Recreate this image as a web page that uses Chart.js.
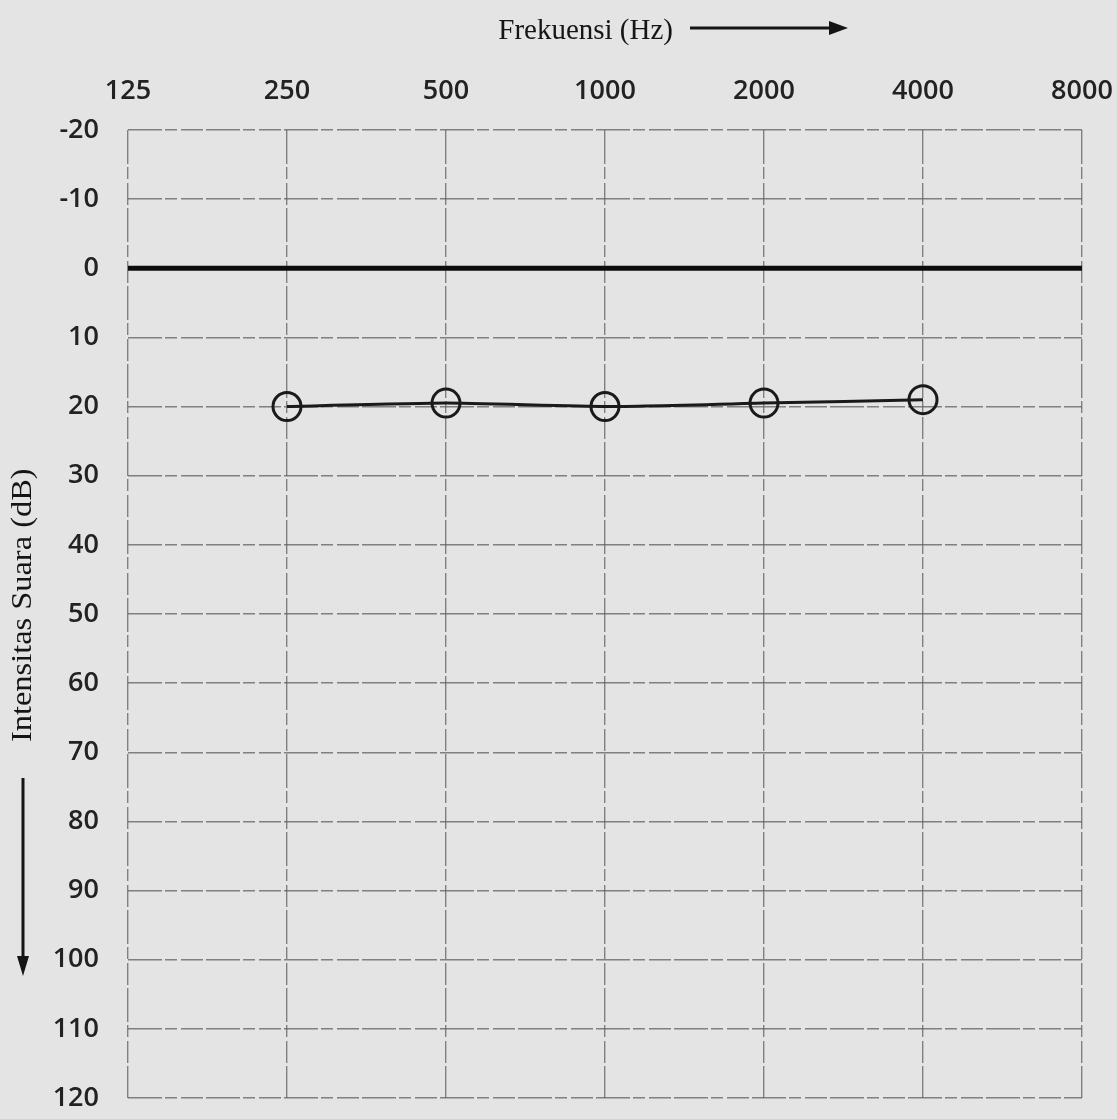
<!DOCTYPE html>
<html>
<head>
<meta charset="utf-8">
<script src="https://cdn.jsdelivr.net/npm/chart.js@4.4.0/dist/chart.umd.min.js"></script>
<style>
    html, body { margin: 0; padding: 0; background: #e4e4e4; }
    #wrap { position: relative; width: 1117px; height: 1119px; }
</style>
</head>
<body>
<div id="wrap"><canvas id="audiogram"></canvas></div>
<script>
// Audiogram data
const frequencies = ['125', '250', '500', '1000', '2000', '4000', '8000'];
const dbTicks = [-20, -10, 0, 10, 20, 30, 40, 50, 60, 70, 80, 90, 100, 110, 120];
const thresholdDb = [null, 20, 19.5, 20, 19.5, 19, null];
const referenceDb = [0, 0, 0, 0, 0, 0, 0];

// Axis titles and arrows drawn on the canvas
const axisTitles = {
    id: 'axisTitles',
    afterDraw(chart) {
        const ctx = chart.ctx;
        ctx.save();
        ctx.fillStyle = '#151515';
        ctx.strokeStyle = '#151515';
        ctx.font = '29px "Liberation Serif", "DejaVu Serif", serif';

        // Frekuensi (Hz) ->
        ctx.textAlign = 'right';
        ctx.textBaseline = 'alphabetic';
        ctx.fillText('Frekuensi (Hz)', 673, 39);
        ctx.lineWidth = 3;
        ctx.beginPath();
        ctx.moveTo(690, 28);
        ctx.lineTo(832, 28);
        ctx.stroke();
        ctx.beginPath();
        ctx.moveTo(848, 28);
        ctx.lineTo(829, 21);
        ctx.lineTo(829, 35);
        ctx.closePath();
        ctx.fill();

        // Intensitas Suara (dB), arrow pointing down
        ctx.save();
        ctx.translate(23, 742);
        ctx.rotate(-Math.PI / 2);
        ctx.scale(1.08, 1);
        ctx.font = '30px "Liberation Serif", "DejaVu Serif", serif';
        ctx.textAlign = 'left';
        ctx.textBaseline = 'middle';
        ctx.fillText('Intensitas Suara (dB)', 0, 0);
        ctx.restore();

        ctx.lineWidth = 3;
        ctx.beginPath();
        ctx.moveTo(23, 778);
        ctx.lineTo(23, 960);
        ctx.stroke();
        ctx.beginPath();
        ctx.moveTo(23, 976);
        ctx.lineTo(17, 956);
        ctx.lineTo(29, 956);
        ctx.closePath();
        ctx.fill();
        ctx.restore();
    }
};

const gridStyle = {
    color: 'rgba(95, 95, 95, 0.75)',
    lineWidth: 1.4,
    drawTicks: false
};
const gridDash = [34, 3, 12, 4, 22, 3];
const tickFont = { family: '"Open Sans", Lato, sans-serif', size: 27, weight: '600' };

new Chart(document.getElementById('audiogram').getContext('2d'), {
    type: 'line',
    data: {
        labels: frequencies,
        datasets: [
            {
                label: 'Referensi 0 dB',
                data: referenceDb,
                borderColor: '#0d0d0d',
                borderWidth: 5,
                pointRadius: 0,
                tension: 0
            },
            {
                label: 'Ambang dengar',
                data: thresholdDb,
                borderColor: '#1a1a1a',
                borderWidth: 3,
                pointStyle: 'circle',
                pointRadius: 14,
                pointBorderWidth: 3,
                pointBorderColor: '#1a1a1a',
                pointBackgroundColor: 'rgba(0,0,0,0)',
                tension: 0.15,
                spanGaps: false
            }
        ]
    },
    options: {
        responsive: true,
        maintainAspectRatio: false,
        animation: false,
        layout: { padding: { top: 0, left: 0, right: 35, bottom: 21 } },
        plugins: {
            legend: { display: false },
            tooltip: { enabled: false }
        },
        scales: {
            x: {
                position: 'top',
                offset: false,
                grid: gridStyle,
                border: { display: false, dash: gridDash },
                ticks: {
                    color: '#222',
                    padding: 22,
                    maxRotation: 0,
                    font: tickFont
                },
                afterFit(axis) {
                    axis.height = 130;
                    axis.paddingLeft = 0;
                    axis.paddingRight = 0;
                }
            },
            y: {
                reverse: true,
                min: -20,
                max: 120,
                grid: gridStyle,
                border: { display: false, dash: gridDash },
                afterBuildTicks(axis) { axis.ticks = dbTicks.map(v => ({ value: v })); },
                ticks: {
                    color: '#222',
                    padding: 29,
                    font: tickFont
                },
                afterFit(axis) {
                    axis.width = 128;
                    axis.paddingTop = 0;
                    axis.paddingBottom = 0;
                }
            }
        }
    },
    plugins: [axisTitles]
});
</script>
</body>
</html>
